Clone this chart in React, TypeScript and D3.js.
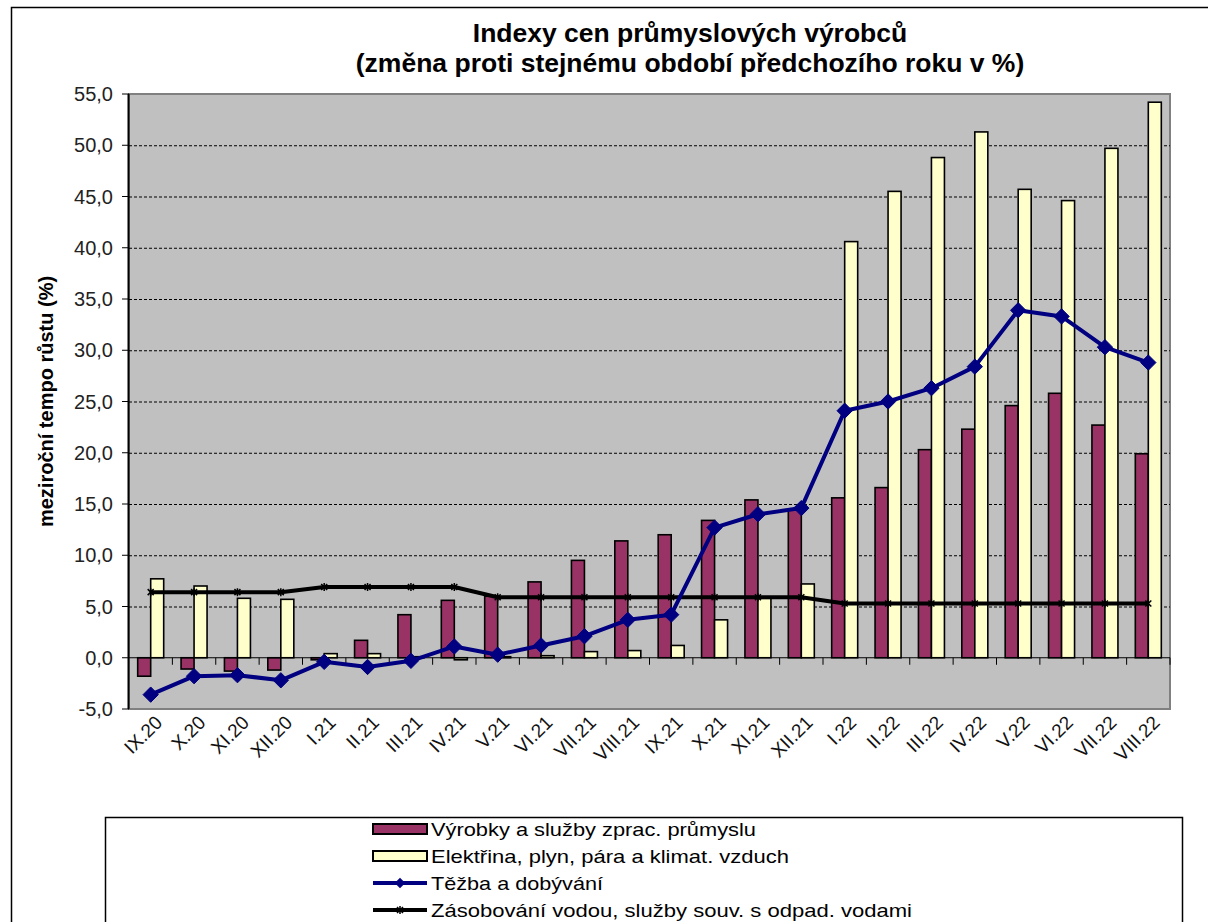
import React, { useEffect, useRef } from "react";
import * as d3 from "d3";

// data
const months = [
  "IX.20", "X.20", "XI.20", "XII.20", "I.21", "II.21", "III.21", "IV.21",
  "V.21", "VI.21", "VII.21", "VIII.21", "IX.21", "X.21", "XI.21", "XII.21",
  "I.22", "II.22", "III.22", "IV.22", "V.22", "VI.22", "VII.22", "VIII.22",
];
const vyrobky = [
  -1.8, -1.1, -1.3, -1.2, -0.2, 1.7, 4.2, 5.6, 6.0, 7.4, 9.5, 11.4, 12.0, 13.4,
  15.4, 14.4, 15.6, 16.6, 20.3, 22.3, 24.6, 25.8, 22.7, 19.9,
];
const elektrina = [
  7.7, 7.0, 5.8, 5.7, 0.4, 0.4, 0.1, -0.2, 0.1, 0.2, 0.6, 0.7, 1.2, 3.7, 5.8,
  7.2, 40.6, 45.5, 48.8, 51.3, 45.7, 44.6, 49.7, 54.2,
];
const tezba = [
  -3.6, -1.8, -1.7, -2.2, -0.4, -0.9, -0.3, 1.1, 0.3, 1.2, 2.1, 3.7, 4.2, 12.7,
  14.0, 14.6, 24.1, 25.0, 26.3, 28.4, 33.9, 33.3, 30.3, 28.8,
];
const zasobovani = [
  6.4, 6.4, 6.4, 6.4, 6.9, 6.9, 6.9, 6.9, 5.9, 5.9, 5.9, 5.9, 5.9, 5.9, 5.9,
  5.9, 5.3, 5.3, 5.3, 5.3, 5.3, 5.3, 5.3, 5.3,
];
const yTickValues = [-5, 0, 5, 10, 15, 20, 25, 30, 35, 40, 45, 50, 55];
const legendLabels = [
  "Výrobky a služby zprac. průmyslu",
  "Elektřina, plyn, pára a klimat. vzduch",
  "Těžba a dobývání",
  "Zásobování vodou, služby souv. s odpad. vodami",
];

const W = 1208;
const H = 922;
const FONT = "'Liberation Sans', Arial, sans-serif";
const NARROW = "'Liberation Sans Narrow', 'Arial Narrow', 'Liberation Sans', sans-serif";
const PURPLE = "#993366";
const YELLOW = "#ffffcc";
const NAVY = "#000080";

export default function App() {
  const ref = useRef<SVGSVGElement>(null);

  useEffect(() => {
    const svg = d3.select(ref.current);
    svg.selectAll("*").remove();

    const plot = { left: 129, right: 1170, top: 94, bottom: 709 };

    const x = d3.scaleBand().domain(months).range([plot.left, plot.right]);
    const bw = x.bandwidth();
    const barW = 13;
    const x1 = d3
      .scaleBand()
      .domain(["v", "e"])
      .range([bw / 2 - barW, bw / 2 + barW]);
    const y = d3.scaleLinear().domain([-5, 55]).range([plot.bottom, plot.top]);
    const cx = (m: string) => (x(m) as number) + bw / 2;

    // outer chart border
    svg.append("path")
      .attr("d", `M11.5,${H} V7.5 H${W}`)
      .attr("fill", "none")
      .attr("stroke", "#000")
      .attr("stroke-width", 1.5);

    // title
    const title = svg.append("text")
      .attr("text-anchor", "middle")
      .attr("font-family", FONT)
      .attr("font-weight", "bold")
      .attr("font-size", 26.5)
      .attr("fill", "#000");
    title.append("tspan").attr("x", 690).attr("y", 42).text("Indexy cen průmyslových výrobců");
    title.append("tspan").attr("x", 690).attr("y", 72).text("(změna proti stejnému období předchozího roku v %)");

    // plot area
    svg.append("rect")
      .attr("x", plot.left)
      .attr("y", plot.top)
      .attr("width", plot.right - plot.left)
      .attr("height", plot.bottom - plot.top)
      .attr("fill", "#c0c0c0")
      .attr("stroke", "#808080")
      .attr("stroke-width", 2);

    // gridlines
    svg.append("g")
      .selectAll("line")
      .data(yTickValues.filter((v) => v !== 0 && v !== -5 && v !== 55))
      .join("line")
      .attr("x1", plot.left)
      .attr("x2", plot.right)
      .attr("y1", (d) => y(d) + 0.5)
      .attr("y2", (d) => y(d) + 0.5)
      .attr("stroke", "#000")
      .attr("stroke-width", 1)
      .attr("stroke-dasharray", "3,2");

    // bars
    const barRect = (sel: any, key: string, vals: number[], fill: string) =>
      sel.selectAll("rect")
        .data(months)
        .join("rect")
        .attr("x", (m: string) => (x(m) as number) + (x1(key) as number))
        .attr("y", (m: string, i: number) => y(Math.max(0, vals[i])))
        .attr("width", x1.bandwidth())
        .attr("height", (m: string, i: number) => Math.abs(y(vals[i]) - y(0)))
        .attr("fill", fill)
        .attr("stroke", "#000")
        .attr("stroke-width", 1.6);
    barRect(svg.append("g"), "v", vyrobky, PURPLE);
    barRect(svg.append("g"), "e", elektrina, YELLOW);

    // category axis at zero
    const xAxis = svg.append("g").attr("stroke", "#000").attr("stroke-width", 1);
    xAxis.append("line")
      .attr("x1", plot.left).attr("x2", plot.right)
      .attr("y1", y(0)).attr("y2", y(0));
    xAxis.selectAll("line.tick")
      .data(months.slice(1).concat(["end"]))
      .join("line")
      .attr("class", "tick")
      .attr("x1", (m, i) => plot.left + bw * (i + 1))
      .attr("x2", (m, i) => plot.left + bw * (i + 1))
      .attr("y1", y(0))
      .attr("y2", y(0) + 7);

    // x labels
    svg.append("g")
      .selectAll("text")
      .data(months)
      .join("text")
      .attr("transform", (m) => `translate(${cx(m) + 8},${plot.bottom + 10}) rotate(-45)`)
      .attr("text-anchor", "end")
      .attr("dy", "0.35em")
      .attr("font-family", FONT)
      .attr("font-size", 19)
      .attr("fill", "#111")
      .text((m) => m);

    // value axis
    const yAxis = svg.append("g");
    yAxis.append("line")
      .attr("x1", plot.left - 0.5).attr("x2", plot.left - 0.5)
      .attr("y1", plot.top).attr("y2", plot.bottom)
      .attr("stroke", "#000").attr("stroke-width", 2);
    yAxis.selectAll("line.tick")
      .data(yTickValues)
      .join("line")
      .attr("class", "tick")
      .attr("x1", plot.left - 7).attr("x2", plot.left)
      .attr("y1", (d) => y(d)).attr("y2", (d) => y(d))
      .attr("stroke", "#000").attr("stroke-width", 1);
    yAxis.selectAll("text")
      .data(yTickValues)
      .join("text")
      .attr("x", plot.left - 16)
      .attr("y", (d) => y(d))
      .attr("dy", "0.36em")
      .attr("text-anchor", "end")
      .attr("font-family", FONT)
      .attr("font-size", 20)
      .attr("fill", "#222")
      .text((d) => d3.format(".1f")(d).replace(".", ",").replace("−", "-"));

    svg.append("text")
      .attr("transform", `translate(53,${(plot.top + plot.bottom) / 2}) rotate(-90)`)
      .attr("text-anchor", "middle")
      .attr("font-family", FONT)
      .attr("font-weight", "bold")
      .attr("font-size", 20)
      .text("meziroční tempo růstu (%)");

    // lines
    const line = d3.line<number>()
      .x((d, i) => cx(months[i]))
      .y((d) => y(d));

    const star = (g: any, px: number, py: number) => {
      const s = 3;
      g.append("path")
        .attr("d", `M${px - s},${py - s}L${px + s},${py + s}M${px - s},${py + s}L${px + s},${py - s}M${px},${py - s - 1}V${py + s + 1}`)
        .attr("stroke", "#000")
        .attr("stroke-width", 1.5)
        .attr("fill", "none");
    };

    svg.append("path")
      .datum(zasobovani)
      .attr("d", line)
      .attr("fill", "none")
      .attr("stroke", "#000")
      .attr("stroke-width", 4)
      .attr("stroke-linejoin", "round");
    const zg = svg.append("g");
    zasobovani.forEach((v, i) => star(zg, cx(months[i]), y(v)));

    svg.append("path")
      .datum(tezba)
      .attr("d", line)
      .attr("fill", "none")
      .attr("stroke", NAVY)
      .attr("stroke-width", 4)
      .attr("stroke-linejoin", "round");
    const diamond = d3.symbol().type(d3.symbolDiamond2).size(150);
    svg.append("g")
      .selectAll("path")
      .data(tezba)
      .join("path")
      .attr("transform", (d, i) => `translate(${cx(months[i])},${y(d)})`)
      .attr("d", diamond)
      .attr("fill", NAVY)
      .attr("stroke", NAVY)
      .attr("stroke-width", 1);

    // legend
    const lg = svg.append("g");
    lg.append("path")
      .attr("d", `M105.5,${H} V817.5 H1182.5 V${H}`)
      .attr("fill", "#fff")
      .attr("stroke", "#000")
      .attr("stroke-width", 1.5);
    const rowY = [829, 856, 883, 910];
    const textWidths = [325, 358, 172, 481];
    const sx = 373;
    const sw = 54;
    lg.append("rect").attr("x", sx).attr("y", rowY[0] - 5).attr("width", sw).attr("height", 10)
      .attr("fill", PURPLE).attr("stroke", "#000").attr("stroke-width", 2);
    lg.append("rect").attr("x", sx).attr("y", rowY[1] - 5).attr("width", sw).attr("height", 10)
      .attr("fill", YELLOW).attr("stroke", "#000").attr("stroke-width", 2);
    lg.append("line").attr("x1", sx).attr("x2", sx + sw).attr("y1", rowY[2]).attr("y2", rowY[2])
      .attr("stroke", NAVY).attr("stroke-width", 4);
    lg.append("path").attr("transform", `translate(${sx + sw / 2},${rowY[2]})`)
      .attr("d", d3.symbol().type(d3.symbolDiamond2).size(70)).attr("fill", NAVY);
    lg.append("line").attr("x1", sx).attr("x2", sx + sw).attr("y1", rowY[3]).attr("y2", rowY[3])
      .attr("stroke", "#000").attr("stroke-width", 4);
    star(lg, sx + sw / 2, rowY[3]);
    lg.selectAll("text")
      .data(legendLabels)
      .join("text")
      .attr("x", sx + sw + 4)
      .attr("y", (d, i) => rowY[i])
      .attr("dy", "0.36em")
      .attr("font-family", NARROW)
      .attr("font-size", 19)
      .attr("textLength", (d, i) => textWidths[i])
      .attr("lengthAdjust", "spacingAndGlyphs")
      .attr("fill", "#000")
      .text((d) => d);
  }, []);

  return (
    <svg
      ref={ref}
      width={W}
      height={H}
      style={{ position: "fixed", left: 0, top: 0, background: "#fff" }}
    />
  );
}
